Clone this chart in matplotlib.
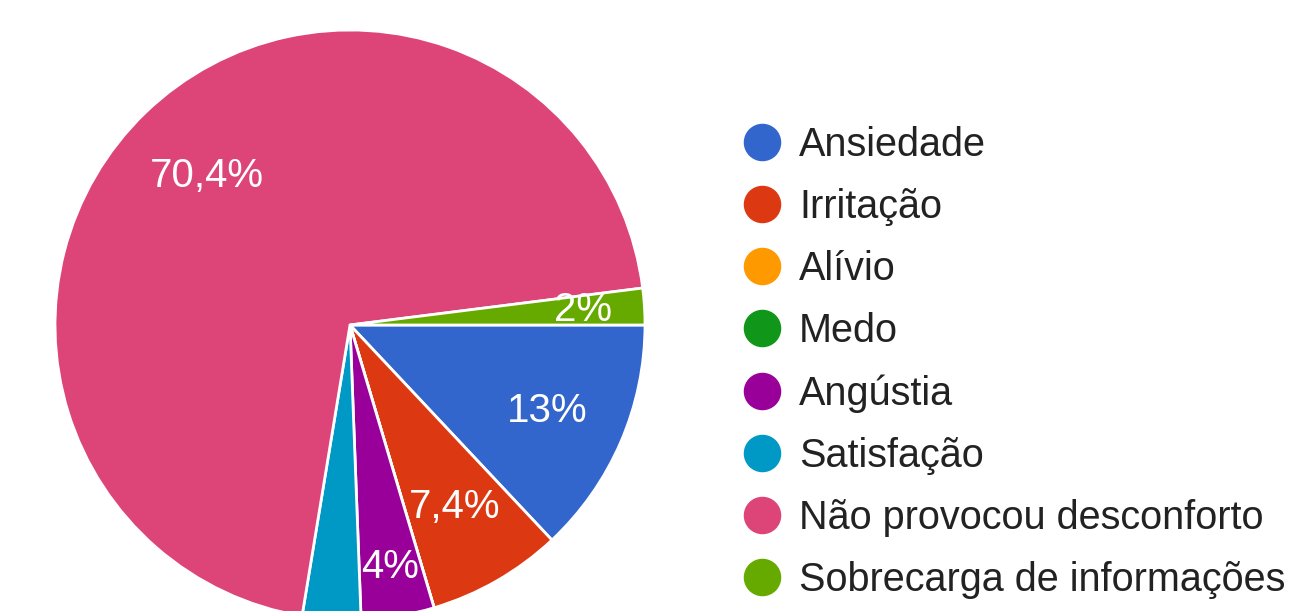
import numpy as np
import matplotlib
matplotlib.use('Agg')
import matplotlib.pyplot as plt
from matplotlib.lines import Line2D

categories = ['Ansiedade', 'Irritação', 'Alívio', 'Medo', 'Angústia',
              'Satisfação', 'Não provocou desconforto', 'Sobrecarga de informações']
values = [13.0, 7.4, 0.0, 0.0, 4.0, 3.2, 70.4, 2.0]
pct_labels = ['13%', '7,4%', '', '', '4%', '', '70,4%', '2%']

colors = ['#3366cc', '#dc3912', '#ff9900', '#109618', '#990099',
          '#0099c6', '#dd4477', '#66aa00']
label_radius = [0.73, 0.71, 0.7, 0.7, 0.83, 0.7, 0.70, 0.79]

plt.rcParams['font.family'] = ['Liberation Sans', 'DejaVu Sans']

W, H = 1294, 611
fig = plt.figure(figsize=(W / 100, H / 100), dpi=100)
cx, cy, r = 350, 611 - 325, 295
ax = fig.add_axes([(cx - r) / W, (cy - r) / H, 2 * r / W, 2 * r / H])

wedges, _ = ax.pie(values, colors=colors, startangle=0, counterclock=False,
                   radius=1, wedgeprops=dict(edgecolor='white', linewidth=2))
ax.set_xlim(-1, 1)
ax.set_ylim(-1, 1)
ax.set_aspect('equal')
ax.axis('off')

for w, lab, rr in zip(wedges, pct_labels, label_radius):
    if not lab:
        continue
    mid = np.deg2rad((w.theta1 + w.theta2) / 2)
    ax.text(rr * np.cos(mid), rr * np.sin(mid), lab, color='white',
            fontsize=29, ha='center', va='center')

handles = [Line2D([], [], marker='o', linestyle='none', markersize=26,
                  markerfacecolor=c, markeredgecolor=c) for c in colors]
leg = fig.legend(handles, categories, loc='upper left',
                 bbox_to_anchor=(722 / W, 1 - 106 / H), frameon=False,
                 fontsize=28.5, labelspacing=0.61, handletextpad=0.45,
                 handlelength=1.0, borderpad=0)
for t in leg.get_texts():
    t.set_color('#222222')

fig.savefig('out.png', dpi=100)
